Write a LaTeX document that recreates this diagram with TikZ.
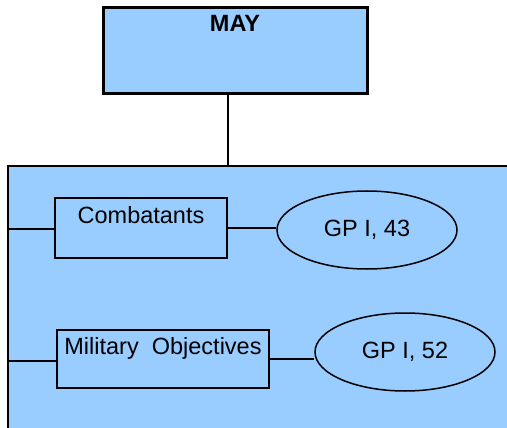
\documentclass[tikz,border=0pt]{standalone}
\usepackage{fontspec}
\setmainfont{Liberation Sans}
\usepackage{tikz}
\usetikzlibrary{shapes.geometric}
\usetikzlibrary{positioning}
\definecolor{skyFill}{RGB}{153,204,255}
\tikzstyle{topic} = [draw,line width=2pt,fill=skyFill,rectangle,inner sep=0pt]
\tikzstyle{source} = [draw,line width=1.5pt,fill=skyFill,ellipse,inner sep=0pt,minimum width=180pt,minimum height=78pt]
\tikzstyle{link} = [line width=1.5pt]

\begin{document}
\begin{tikzpicture}[x=1pt,y=-1pt,font=\fontsize{23.5}{28}\selectfont]

    \clip (0,0) rectangle (507,428); % page = 507 x 428
    \fill [white] (0,0) rectangle (507,428);

    % big panel, runs off the page
    \draw [line width=2pt,fill=skyFill] (8,166) rectangle (530,450);
    \coordinate (hub) at (228,166);
    \coordinate (left1) at (8,229);
    \coordinate (left2) at (8,361);

    % month box
    \node [topic,line width=3pt,minimum width=264pt,text height=24pt,text depth=62pt]
        (may) at (235,51) {\bfseries MAY};

    % rules and their sources
    \node [topic,minimum width=172pt,text height=25pt,text depth=34pt]
        (combat) at (141,228) {Combatants};
    \node [source] (gp43) at (367,230) {GP I, 43};

    \node [topic,minimum width=212pt,text height=24pt,text depth=34pt]
        (milobj) at (163,359) {Military\ \ Objectives};
    \node [source] (gp52) at (405,352) {GP I, 52};

    \draw [link] (hub |- may.south) -- (hub);
    \draw [link] (left1) -- (left1 -| combat.west);
    \draw [link] (combat.east) -- (combat.east -| gp43.west);
    \draw [link] (left2) -- (left2 -| milobj.west);
    \draw [link] (milobj.east) -- (milobj.east -| gp52.west);

\end{tikzpicture}
\end{document}
